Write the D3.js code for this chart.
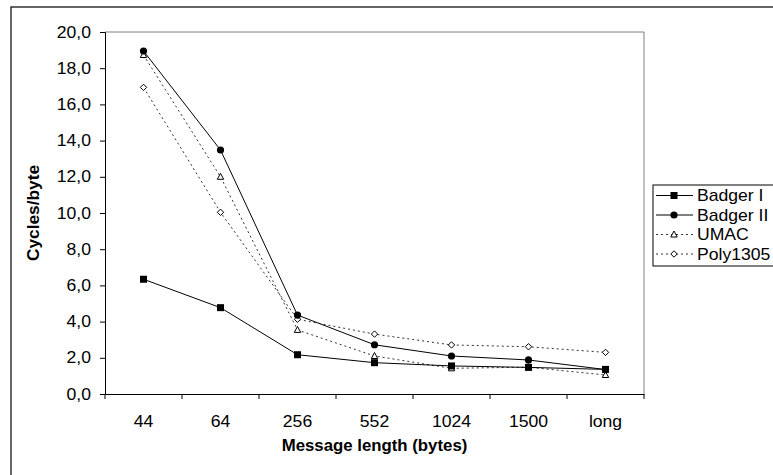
<!DOCTYPE html>
<html><head><meta charset="utf-8">
<script src="https://cdn.jsdelivr.net/npm/d3@7/dist/d3.min.js"></script>
<style>body{margin:0;background:#fff}svg{display:block;font-family:"Liberation Sans",Arial,sans-serif}</style>
</head><body><svg id="c" width="773" height="475"></svg>
<script>
const categories = ["44","64","256","552","1024","1500","long"];
const badger1 = [6.34,4.77,2.17,1.73,1.55,1.47,1.36];
const badger2 = [18.95,13.48,4.36,2.72,2.10,1.88,1.35];
const umac    = [18.73,12.0,3.54,2.10,1.42,1.48,1.05];
const poly1305= [16.94,10.04,4.13,3.31,2.71,2.61,2.30];
const yTicks = [0,2,4,6,8,10,12,14,16,18,20];
const seriesNames = ["Badger I","Badger II","UMAC","Poly1305"];

const series = [
  {name:seriesNames[0], values:badger1, dash:null, marker:"square"},
  {name:seriesNames[1], values:badger2, dash:null, marker:"circle"},
  {name:seriesNames[2], values:umac, dash:"2,3", marker:"triangle"},
  {name:seriesNames[3], values:poly1305, dash:"2,3", marker:"diamond"}
];

const SX = 1.1, FS = 16;
const svg = d3.select("#c");
const m = {l:105, t:32, r:644, b:394};
const x = d3.scaleBand().domain(categories).range([m.l, m.r]);
const y = d3.scaleLinear().domain([0,20]).range([m.b, m.t]);

// outer frame
svg.append("rect").attr("x",11).attr("y",7).attr("width",780).attr("height",480)
  .attr("fill","none").attr("stroke","#000").attr("stroke-width",1.2);

// plot border (top/right)
svg.append("path").attr("d",`M${m.l},${m.t}H${m.r}V${m.b}`).attr("fill","none")
  .attr("stroke","#808080").attr("stroke-width",1);

const fmt = d => d3.format(".1f")(d).replace(".",",");
const ya = svg.append("g").attr("transform",`translate(${m.l},0)`)
  .call(d3.axisLeft(y).tickValues(yTicks).tickFormat(fmt).tickSize(5).tickPadding(9));
ya.selectAll("text").attr("font-size",FS).attr("fill","#000").attr("font-family","Liberation Sans, Arial, sans-serif")
  .each(function(){ const t=d3.select(this); t.attr("x", +t.attr("x")/SX).attr("transform",`scale(${SX},1)`); });
ya.selectAll("line,path").attr("stroke","#000");

const xa = svg.append("g").attr("transform",`translate(0,${m.b})`)
  .call(d3.axisBottom(x).tickSize(0).tickPadding(22));
xa.selectAll("text").attr("font-size",FS).attr("fill","#000").attr("font-family","Liberation Sans, Arial, sans-serif")
  .attr("transform",`scale(${SX},1)`);
xa.select(".domain").attr("stroke","#000");
// boundary ticks
const bounds = categories.map(c => x(c)).concat([m.r]);
xa.selectAll(".bt").data(bounds).enter().append("line").attr("class","bt")
  .attr("x1",d=>d).attr("x2",d=>d).attr("y1",0).attr("y2",5).attr("stroke","#000");

svg.append("text").attr("transform",`translate(${(m.l+m.r)/2},451) scale(1.05,1)`).attr("text-anchor","middle")
  .attr("font-weight","bold").attr("font-size",FS).text("Message length (bytes)");
svg.append("text").attr("transform",`translate(39,${(m.t+m.b)/2}) rotate(-90) scale(1.08,1)`).attr("text-anchor","middle")
  .attr("font-weight","bold").attr("font-size",FS).text("Cycles/byte");

const cx = c => x(c) + x.bandwidth()/2;
const line = d3.line().x((d,i)=>cx(categories[i])).y(d=>y(d));

function drawMarker(g, type, px, py){
  if(type==="square") g.append("rect").attr("x",px-3.5).attr("y",py-3.5).attr("width",7).attr("height",7).attr("fill","#000");
  else if(type==="circle") g.append("circle").attr("cx",px).attr("cy",py).attr("r",3.6).attr("fill","#000");
  else if(type==="triangle") g.append("path").attr("d",`M${px},${py-3.5}L${px+3.2},${py+2.5}L${px-3.2},${py+2.5}Z`).attr("fill","#fff").attr("stroke","#000").attr("stroke-width",1);
  else g.append("path").attr("d",`M${px},${py-3.2}L${px+3.2},${py}L${px},${py+3.2}L${px-3.2},${py}Z`).attr("fill","#fff").attr("stroke","#000").attr("stroke-width",1);
}

const order = [3,2,0,1];
order.forEach(k => {
  const s = series[k];
  const g = svg.append("g");
  g.append("path").attr("d",line(s.values)).attr("fill","none")
    .attr("stroke", s.dash ? "#333" : "#000").attr("stroke-width",1)
    .attr("stroke-dasharray", s.dash);
  s.values.forEach((v,i)=>drawMarker(g, s.marker, cx(categories[i]), y(v)));
});

// legend
const lg = svg.append("g");
lg.append("rect").attr("x",653).attr("y",185).attr("width",140).attr("height",81)
  .attr("fill","#fff").attr("stroke","#000").attr("stroke-width",1);
series.forEach((s,i)=>{
  const yy = 195.5 + i*19.5;
  lg.append("line").attr("x1",656).attr("x2",693).attr("y1",yy).attr("y2",yy)
    .attr("stroke", s.dash ? "#333":"#000").attr("stroke-dasharray", s.dash);
  drawMarker(lg, s.marker, 674, yy);
  lg.append("text").attr("transform",`translate(697,${yy+5.5}) scale(${SX},1)`).attr("font-size",FS).text(s.name);
});
</script></body></html>
